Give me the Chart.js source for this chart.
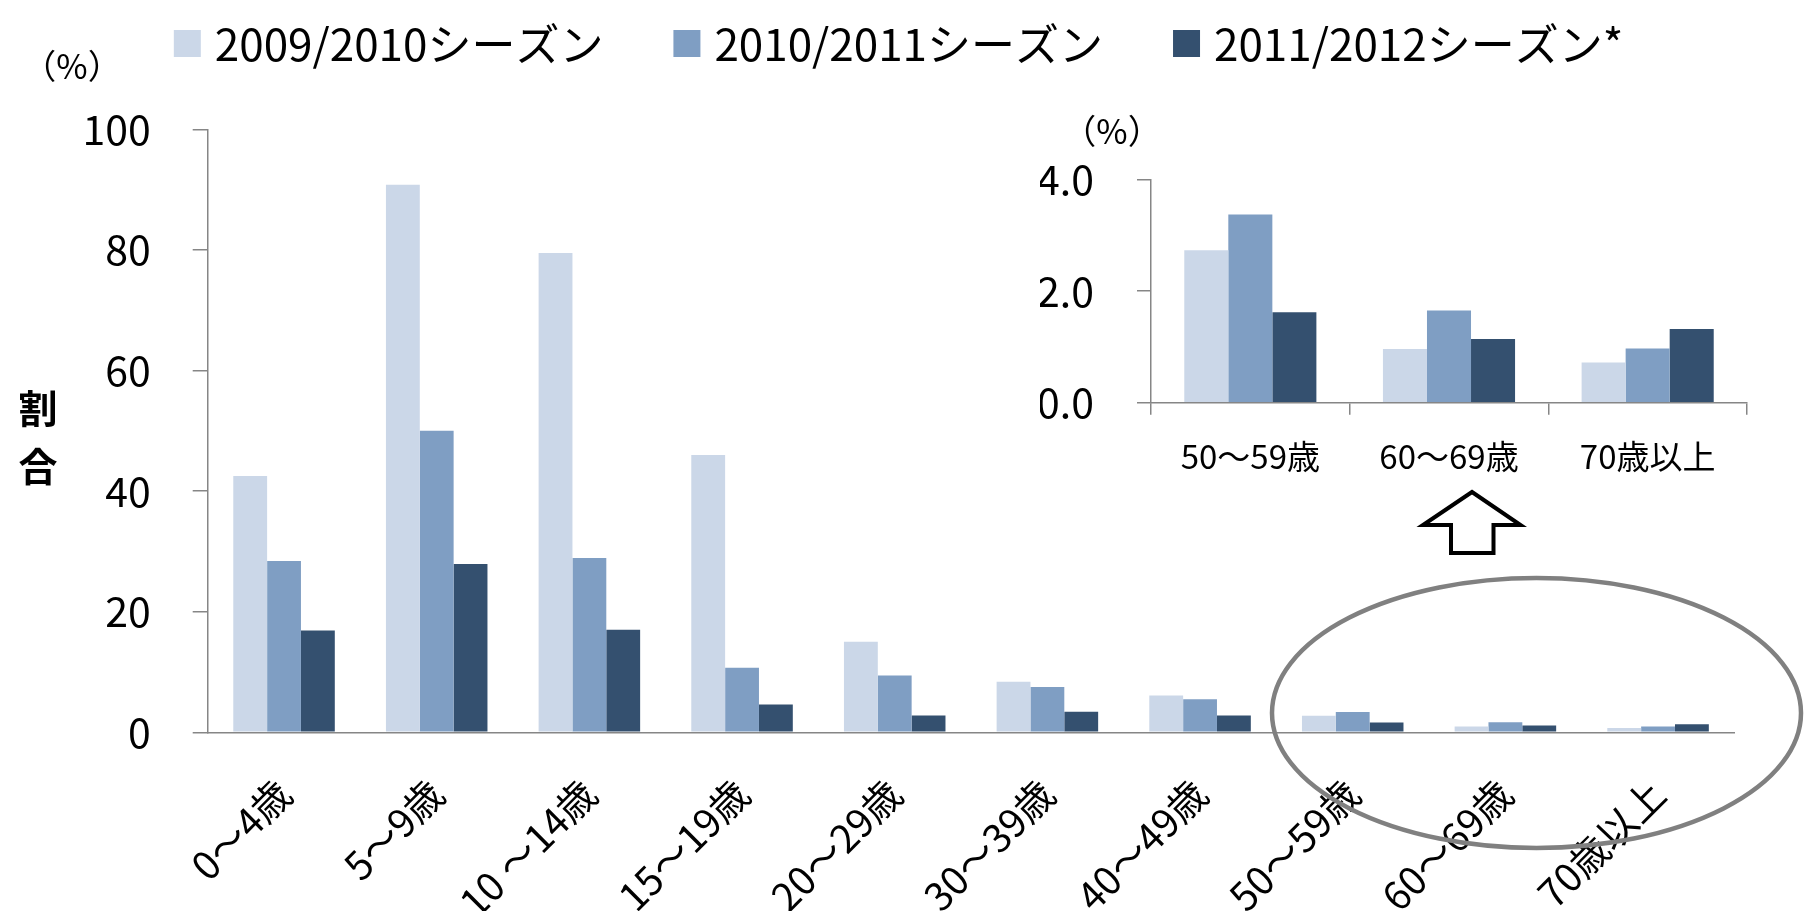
<!DOCTYPE html>
<html><head><meta charset="utf-8">
<script src="https://cdn.jsdelivr.net/npm/chart.js@4"></script>
<style>
html,body{margin:0;padding:0;background:#fff;}
#wrap{position:relative;width:1804px;height:911px;overflow:hidden;}
#main{position:absolute;left:0;top:0;}
#inset{position:absolute;left:1040px;top:100px;}
</style></head><body>
<div id="wrap"><canvas id="main" width="1804" height="911"></canvas><canvas id="inset" width="764" height="420"></canvas></div>
<script>
// ---- data ----
const categories = ['0～4歳','5～9歳','10 ～14歳','15～19歳','20～29歳','30～39歳','40～49歳','50～59歳','60～69歳','70歳以上'];
const seasons = ['2009/2010シーズン','2010/2011シーズン','2011/2012シーズン*'];
const s0910 = [42.5, 90.8, 79.5, 46.0, 15.0, 8.4, 6.1, 2.73, 0.96, 0.72];
const s1011 = [28.4, 50.0, 28.9, 10.7, 9.4, 7.5, 5.5, 3.37, 1.65, 0.97];
const s1112 = [16.9, 27.9, 17.0, 4.6, 2.8, 3.4, 2.8, 1.62, 1.14, 1.32];
const insetCategories = ['50～59歳','60～69歳','70歳以上'];
const insetStart = 7;
const mainYMax = 100, mainYStep = 20;
const insetYMax = 4, insetYStep = 2;
const yUnitLabel = '（%）';
const yTitleChars = ['割','合'];

// ---- style ----
const FONT = '"Noto Sans CJK JP", "Noto Sans", sans-serif';
const AXIS = '#868686';
const colors = ['#cbd7e8', '#7f9ec3', '#34506f'];
const seriesAll = [s0910, s1011, s1112];

function makeDatasets(slice) {
  return seriesAll.map((arr, i) => ({
    label: seasons[i],
    data: slice ? arr.slice(insetStart) : arr,
    backgroundColor: colors[i],
    borderWidth: 0,
    barPercentage: 1.0,
    categoryPercentage: 0.665
  }));
}

const mainDecor = {
  id: 'mainDecor',
  afterDraw(chart) {
    const ctx = chart.ctx;
    ctx.save();
    // unit label
    ctx.fillStyle = '#000';
    ctx.font = '34px ' + FONT;
    ctx.textAlign = 'center';
    ctx.textBaseline = 'middle';
    ctx.fillText(yUnitLabel, 72, 66);
    // y title, stacked
    ctx.font = 'bold 39px ' + FONT;
    ctx.fillText(yTitleChars[0], 38, 408);
    ctx.fillText(yTitleChars[1], 38, 466);
    // legend
    ctx.font = '44px ' + FONT;
    const box = 27, gapBT = 14, gapItem = 70;
    const ds = chart.data.datasets;
    const widths = ds.map(d => ctx.measureText(d.label).width);
    let total = 0;
    widths.forEach((w, i) => { total += box + gapBT + w + (i < widths.length - 1 ? gapItem : 0); });
    let x = 898.5 - total / 2;
    ctx.textAlign = 'left';
    ds.forEach((d, i) => {
      ctx.fillStyle = d.backgroundColor;
      ctx.fillRect(x, 30, box, box);
      ctx.fillStyle = '#000';
      ctx.fillText(d.label, x + box + gapBT, 44);
      x += box + gapBT + widths[i] + gapItem;
    });
    // ellipse highlight
    ctx.strokeStyle = '#808080';
    ctx.lineWidth = 4.5;
    ctx.beginPath();
    ctx.ellipse(1536.5, 713, 264.5, 135, 0, 0, Math.PI * 2);
    ctx.stroke();
    // hollow arrow
    ctx.strokeStyle = '#000';
    ctx.fillStyle = '#fff';
    ctx.lineWidth = 4;
    ctx.lineJoin = 'miter';
    ctx.beginPath();
    ctx.moveTo(1472, 492);
    ctx.lineTo(1520.5, 525);
    ctx.lineTo(1493.5, 525);
    ctx.lineTo(1493.5, 553);
    ctx.lineTo(1451, 553);
    ctx.lineTo(1451, 525);
    ctx.lineTo(1423, 525);
    ctx.closePath();
    ctx.fill();
    ctx.stroke();
    ctx.restore();
  }
};

new Chart(document.getElementById('main'), {
  type: 'bar',
  data: { labels: categories, datasets: makeDatasets(false) },
  options: {
    responsive: false,
    animation: false,
    devicePixelRatio: 1,
    layout: { padding: { top: 129.3, right: 69.6, left: 0, bottom: 0 } },
    plugins: { legend: { display: false }, tooltip: { enabled: false } },
    scales: {
      x: {
        grid: { display: false, drawTicks: false },
        border: { color: AXIS, width: 1.5 },
        ticks: { font: { family: FONT, size: 39 }, color: '#000', minRotation: 45, maxRotation: 45, autoSkip: false, padding: 38 },
        afterFit(s) { s.height = 911 - 732.3; }
      },
      y: {
        min: 0, max: mainYMax,
        ticks: { stepSize: mainYStep, font: { family: FONT, size: 41 }, color: '#000', padding: 42 },
        grid: { drawOnChartArea: false, tickLength: 15, color: AXIS, lineWidth: 1.5 },
        border: { color: AXIS, width: 1.5 },
        afterFit(s) { s.width = 207.7; }
      }
    }
  },
  plugins: [mainDecor]
});

const insetDecor = {
  id: 'insetDecor',
  afterDraw(chart) {
    const ctx = chart.ctx;
    ctx.save();
    ctx.fillStyle = '#000';
    ctx.font = '34px ' + FONT;
    ctx.textAlign = 'center';
    ctx.textBaseline = 'middle';
    ctx.fillText(yUnitLabel, 72, 31);
    ctx.restore();
  }
};

new Chart(document.getElementById('inset'), {
  type: 'bar',
  data: { labels: insetCategories, datasets: makeDatasets(true) },
  options: {
    responsive: false,
    animation: false,
    devicePixelRatio: 1,
    layout: { padding: { top: 79.3, right: 57, left: 0, bottom: 0 } },
    plugins: { legend: { display: false }, tooltip: { enabled: false } },
    scales: {
      x: {
        grid: { drawOnChartArea: false, tickLength: 12, color: AXIS, lineWidth: 1.5, offset: true },
        border: { color: AXIS, width: 1.5 },
        ticks: { font: { family: FONT, size: 33 }, color: '#000', padding: 22, maxRotation: 0, autoSkip: false },
        afterFit(s) { s.height = 420 - 302.7; }
      },
      y: {
        min: 0, max: insetYMax,
        ticks: { stepSize: insetYStep, font: { family: FONT, size: 41 }, color: '#000', padding: 43, callback: v => Number(v).toFixed(1) },
        grid: { drawOnChartArea: false, tickLength: 14, color: AXIS, lineWidth: 1.5 },
        border: { color: AXIS, width: 1.5 },
        afterFit(s) { s.width = 111; }
      }
    }
  },
  plugins: [insetDecor]
});
</script>
</body></html>
